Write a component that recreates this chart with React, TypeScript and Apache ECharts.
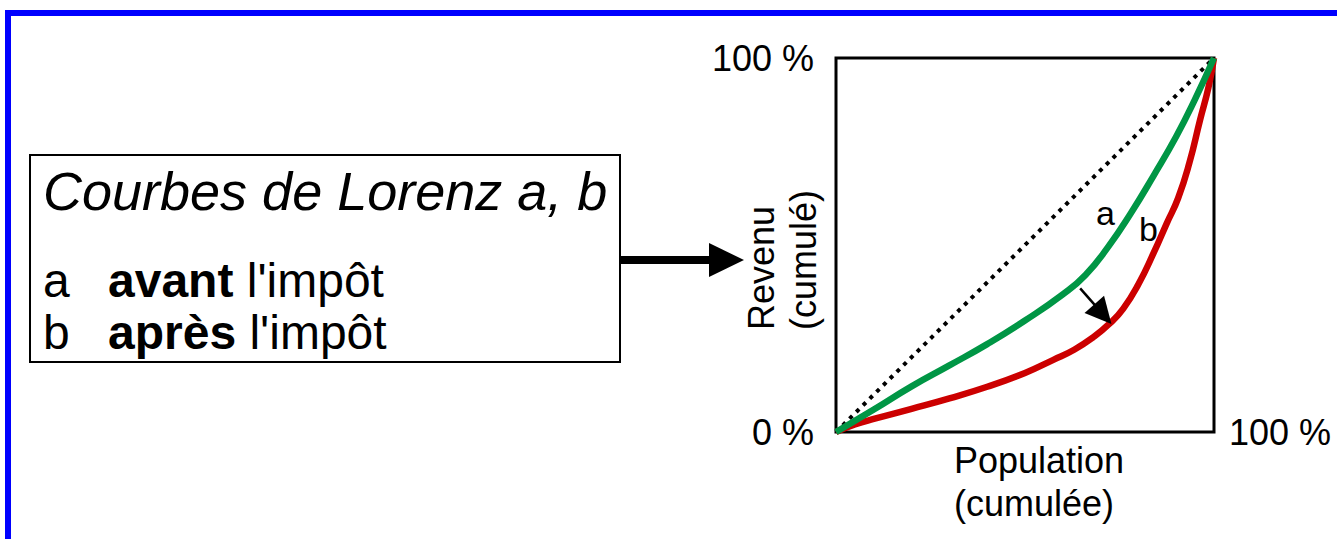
import React, { useEffect, useRef } from "react";
import * as echarts from "echarts";

const FONT = '"Liberation Sans", Arial, Helvetica, sans-serif';

// Lorenz curve a (avant l'impôt) — cumulative population % / cumulative income %
const curveAX = [0, 10, 20, 30, 40, 50, 60, 66, 72, 78, 84, 90, 95, 100];
const curveAY = [0, 6, 12.2, 17.8, 23.5, 29.8, 36.8, 42, 49.5, 58.5, 68.5, 79, 89, 100];
// Lorenz curve b (après l'impôt)
const curveBX = [0, 5, 10, 20, 30, 40, 50, 57.5, 63, 68, 72.5, 76, 80, 84, 87.5, 90.5, 93.5, 96.3, 98.5, 100];
const curveBY = [0, 2, 3.5, 6.2, 9, 12.1, 15.8, 19.3, 22, 25.3, 29.1, 33, 39.5, 47.8, 55.8, 62.5, 72, 83.4, 92, 100];
// Equality line
const equalityX = [0, 100];
const equalityY = [0, 100];
// Shift arrow from curve a to curve b
const shiftFrom = [64.6, 38.4];
const shiftTo = [70.6, 31.5];

const yTicks = [0, 100];
const tickSuffix = " %";
const xEndLabel = "100 %";
const yName = ["Revenu", "(cumulé)"];
const xName = ["Population", "(cumulée)"];
const boxTitle = "Courbes de Lorenz a, b";
const boxRows = [
  { key: "a", bold: "avant", rest: " l'impôt" },
  { key: "b", bold: "après", rest: " l'impôt" },
];

const zip = (xs: number[], ys: number[]) => xs.map((x, i) => [x, ys[i]]);

export default function App() {
  const ref = useRef<HTMLDivElement>(null);
  useEffect(() => {
    const chart = echarts.init(ref.current!, null, { renderer: "svg" });
    const textStyle = (extra: any) => ({ fill: "#000", fontFamily: FONT, ...extra });
    const option: any = {
      animation: false,
      backgroundColor: "#fff",
      grid: {
        left: 836,
        top: 58,
        width: 378,
        height: 374,
        show: true,
        borderColor: "#000",
        borderWidth: 3,
        backgroundColor: "transparent",
      },
      xAxis: {
        type: "value",
        min: 0,
        max: 100,
        interval: 100,
        axisLine: { show: false },
        axisTick: { show: false },
        splitLine: { show: false },
        axisLabel: { show: false },
        name: xEndLabel,
        nameLocation: "end",
        nameGap: 15,
        nameTextStyle: { fontSize: 36, color: "#000", fontFamily: FONT },
      },
      yAxis: {
        type: "value",
        min: 0,
        max: 100,
        interval: 100,
        axisLine: { show: false },
        axisTick: { show: false },
        splitLine: { show: false },
        axisLabel: {
          fontSize: 36,
          color: "#000",
          fontFamily: FONT,
          margin: 22,
          formatter: (v: number) => (yTicks.includes(v) ? v + tickSuffix : ""),
        },
      },
      series: [
        {
          type: "line",
          data: zip(equalityX, equalityY),
          symbol: "none",
          silent: true,
          lineStyle: { color: "#000", width: 4, type: [4, 5.5] },
          z: 2,
        },
        {
          type: "line",
          data: zip(curveBX, curveBY),
          symbol: "none",
          smooth: 0.5,
          silent: true,
          lineStyle: { color: "#cc0000", width: 6.5 },
          z: 3,
        },
        {
          type: "line",
          data: zip(curveAX, curveAY),
          symbol: "none",
          smooth: 0.5,
          silent: true,
          lineStyle: { color: "#009645", width: 6.5 },
          z: 4,
        },
        {
          type: "line",
          data: [],
          silent: true,
          markLine: {
            silent: true,
            symbol: ["none", "triangle"],
            symbolSize: 26,
            label: { show: false },
            lineStyle: { color: "#000", width: 2.5, type: "solid" },
            itemStyle: { color: "#000" },
            emphasis: { disabled: true },
            data: [[{ coord: shiftFrom }, { coord: shiftTo }]],
          },
          z: 5,
        },
      ],
      graphic: [
        // blue slide frame
        {
          type: "rect",
          shape: { x: 8, y: 13, width: 1500, height: 700 },
          style: { fill: "none", stroke: "#0000ff", lineWidth: 6 },
          silent: true,
        },
        // legend box
        {
          type: "rect",
          shape: { x: 30, y: 155, width: 590, height: 207 },
          style: { fill: "#fff", stroke: "#000", lineWidth: 2 },
          silent: true,
        },
        {
          type: "text",
          x: 43,
          y: 191,
          style: textStyle({
            text: boxTitle,
            fontSize: 54,
            fontStyle: "italic",
            align: "left",
            verticalAlign: "middle",
          }),
        },
        ...boxRows.flatMap((r, i) => [
          {
            type: "text",
            x: 43,
            y: 280 + i * 52,
            style: textStyle({ text: r.key, fontSize: 48, align: "left", verticalAlign: "middle" }),
          },
          {
            type: "text",
            x: 108,
            y: 280 + i * 52,
            style: textStyle({
              text: "{b|" + r.bold + "}" + r.rest,
              fontSize: 48,
              align: "left",
              verticalAlign: "middle",
              rich: { b: { fontWeight: "bold", fontSize: 48, fontFamily: FONT, fill: "#000" } },
            }),
          },
        ]),
        // connector arrow
        {
          type: "line",
          shape: { x1: 620, y1: 260, x2: 712, y2: 260 },
          style: { stroke: "#000", lineWidth: 8 },
          silent: true,
        },
        {
          type: "polygon",
          shape: { points: [[709, 243], [744, 260], [709, 277]] },
          style: { fill: "#000" },
          silent: true,
        },
        // y axis title (rotated)
        ...yName.map((t, i) => ({
          type: "text",
          x: 761 + i * 42,
          y: 330,
          rotation: Math.PI / 2,
          style: textStyle({ text: t, fontSize: 36, align: "left", verticalAlign: "middle" }),
        })),
        // x axis title
        ...xName.map((t, i) => ({
          type: "text",
          x: 954,
          y: 460 + i * 43,
          style: textStyle({ text: t, fontSize: 36, align: "left", verticalAlign: "middle" }),
        })),
        // curve labels
        {
          type: "text",
          x: 1096,
          y: 213,
          style: textStyle({ text: "a", fontSize: 34, align: "left", verticalAlign: "middle" }),
        },
        {
          type: "text",
          x: 1139,
          y: 229,
          style: textStyle({ text: "b", fontSize: 34, align: "left", verticalAlign: "middle" }),
        },
      ],
    };
    chart.setOption(option);
    return () => chart.dispose();
  }, []);
  return (
    <div
      ref={ref}
      style={{ position: "fixed", left: 0, top: 0, width: 1337, height: 539, background: "#fff" }}
    />
  );
}
